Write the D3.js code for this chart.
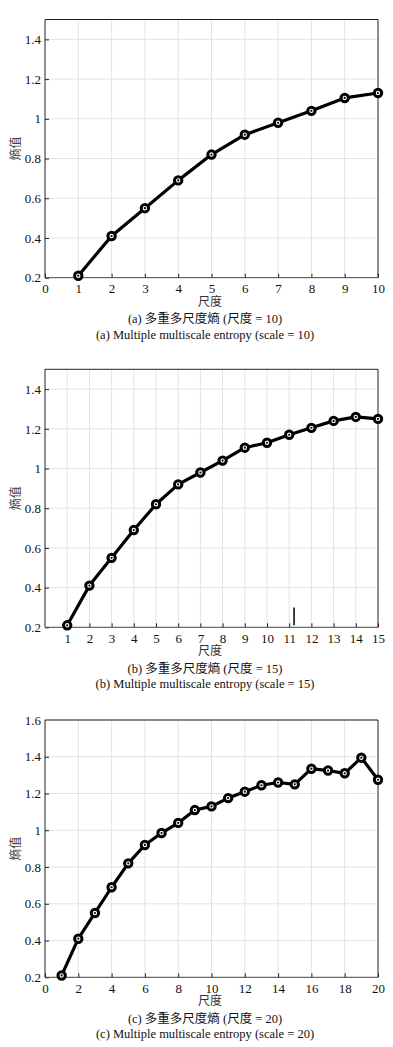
<!DOCTYPE html>
<html>
<head>
<meta charset="utf-8">
<script src="https://cdn.jsdelivr.net/npm/d3@7"></script>
<style>
  body { margin: 0; background: #fff; }
  svg text { font-family: "Liberation Serif", "Times New Roman", Times, "DejaVu Serif", "Noto Sans CJK SC", serif; fill: #111; }
</style>
</head>
<body>
<div id="chart"></div>
<script>
// scale factor (x) and entropy values
const scalesA = [1, 2, 3, 4, 5, 6, 7, 8, 9, 10];
const entropyA = [0.21, 0.41, 0.55, 0.69, 0.82, 0.92, 0.98, 1.04, 1.105, 1.13];

const scalesB = [1, 2, 3, 4, 5, 6, 7, 8, 9, 10, 11, 12, 13, 14, 15];
const entropyB = [0.21, 0.41, 0.55, 0.69, 0.82, 0.92, 0.98, 1.04, 1.105, 1.13, 1.17, 1.205, 1.24, 1.26, 1.25];

const scalesC = [1, 2, 3, 4, 5, 6, 7, 8, 9, 10, 11, 12, 13, 14, 15, 16, 17, 18, 19, 20];
const entropyC = [0.21, 0.41, 0.55, 0.69, 0.82, 0.92, 0.985, 1.04, 1.11, 1.13, 1.175, 1.21, 1.245, 1.26, 1.25, 1.335, 1.325, 1.31, 1.395, 1.275];

// tick labels
const xTicksA = [0, 1, 2, 3, 4, 5, 6, 7, 8, 9, 10];
const xTicksB = [1, 2, 3, 4, 5, 6, 7, 8, 9, 10, 11, 12, 13, 14, 15];
const xTicksC = [0, 2, 4, 6, 8, 10, 12, 14, 16, 18, 20];
const yTicksAB = [0.2, 0.4, 0.6, 0.8, 1, 1.2, 1.4];
const yTicksC = [0.2, 0.4, 0.6, 0.8, 1, 1.2, 1.4, 1.6];

// stray vertical mark visible in panel (b)
const strayB = [{x: 11.22, y0: 0.21, y1: 0.30}];

const captionsCN = ["(a) 多重多尺度熵 (尺度 = 10)", "(b) 多重多尺度熵 (尺度 = 15)", "(c) 多重多尺度熵 (尺度 = 20)"];
const captionsEN = ["(a) Multiple multiscale entropy (scale = 10)", "(b) Multiple multiscale entropy (scale = 15)", "(c) Multiple multiscale entropy (scale = 20)"];

const SERIF = '"Liberation Serif", "Times New Roman", Times, "DejaVu Serif", "Noto Sans CJK SC", serif';

const W = 393, H = 1047;
const svg = d3.select("#chart").append("svg")
  .attr("width", W).attr("height", H)
  .attr("font-family", SERIF);

const fmt = d => String(+d.toFixed(1));

function drawPanel(cfg){
  const left = 45, right = 378;
  const g = svg.append("g");

  const x = d3.scaleLinear().domain(cfg.xDomain).range([left, right]);
  const y = d3.scaleLinear().domain(cfg.yDomain).range([cfg.bottom, cfg.top]);

  // grid
  g.append("g").selectAll("line.vg")
    .data(cfg.xTicks.filter(t => t > cfg.xDomain[0] && t < cfg.xDomain[1]))
    .join("line")
    .attr("x1", d => x(d)).attr("x2", d => x(d))
    .attr("y1", cfg.top).attr("y2", cfg.bottom)
    .attr("stroke", "#e3e3e3").attr("stroke-width", 1);
  g.append("g").selectAll("line.hg")
    .data(cfg.yTicks.filter(t => t > cfg.yDomain[0] && t < cfg.yDomain[1]))
    .join("line")
    .attr("x1", left).attr("x2", right)
    .attr("y1", d => y(d)).attr("y2", d => y(d))
    .attr("stroke", "#e3e3e3").attr("stroke-width", 1);

  // axes with inward ticks
  const xa = g.append("g")
    .attr("transform", `translate(0,${cfg.bottom})`)
    .call(d3.axisBottom(x).tickValues(cfg.xTicks).tickFormat(fmt).tickSize(-4).tickPadding(6));
  const ya = g.append("g")
    .attr("transform", `translate(${left},0)`)
    .call(d3.axisLeft(y).tickValues(cfg.yTicks).tickFormat(fmt).tickSize(-4).tickPadding(4));
  [xa, ya].forEach(a => {
    a.attr("font-family", SERIF).attr("font-size", 13);
    a.select(".domain").remove();
    a.selectAll("line").attr("stroke", "#222");
    a.selectAll("text").attr("fill", "#111");
  });

  // frame
  g.append("line").attr("x1", left).attr("x2", right).attr("y1", cfg.top).attr("y2", cfg.top)
    .attr("stroke", cfg.topColor).attr("stroke-width", cfg.topWidth);
  g.append("line").attr("x1", right).attr("x2", right).attr("y1", cfg.top).attr("y2", cfg.bottom)
    .attr("stroke", "#222").attr("stroke-width", 1);
  g.append("line").attr("x1", left).attr("x2", left).attr("y1", cfg.top).attr("y2", cfg.bottom)
    .attr("stroke", "#222").attr("stroke-width", 1);
  g.append("line").attr("x1", left).attr("x2", right).attr("y1", cfg.bottom).attr("y2", cfg.bottom)
    .attr("stroke", "#444").attr("stroke-width", 1);

  // stray marks
  if (cfg.stray) {
    g.selectAll("line.stray").data(cfg.stray).join("line")
      .attr("x1", d => x(d.x)).attr("x2", d => x(d.x))
      .attr("y1", d => y(d.y0)).attr("y2", d => y(d.y1))
      .attr("stroke", "#000").attr("stroke-width", 1.5);
  }

  const data = cfg.xs.map((xi, i) => ({x: xi, y: cfg.ys[i]}));
  const line = d3.line().x(d => x(d.x)).y(d => y(d.y));
  g.append("path").datum(data)
    .attr("d", line)
    .attr("fill", "none").attr("stroke", "#000").attr("stroke-width", 3.2)
    .attr("stroke-linejoin", "round");

  g.selectAll("circle.m").data(data).join("circle")
    .attr("cx", d => x(d.x)).attr("cy", d => y(d.y))
    .attr("r", 3.7).attr("fill", "#fff").attr("stroke", "#000").attr("stroke-width", 3);
  g.selectAll("circle.c").data(data).join("circle")
    .attr("cx", d => x(d.x)).attr("cy", d => y(d.y))
    .attr("r", 1.1).attr("fill", "#000");

  // labels
  g.append("text")
    .attr("transform", `translate(16,${(cfg.top + cfg.bottom) / 2}) rotate(-90)`)
    .attr("text-anchor", "middle").attr("dominant-baseline", "central")
    .attr("font-size", 12).style("fill", "#444")
    .text("熵值");
  g.append("text")
    .attr("x", 210).attr("y", cfg.bottom + 24)
    .attr("text-anchor", "middle").attr("dominant-baseline", "central")
    .attr("font-size", 12).style("fill", "#333")
    .text("尺度");
  g.append("text")
    .attr("x", 205).attr("y", cfg.bottom + 41.5)
    .attr("text-anchor", "middle").attr("dominant-baseline", "central")
    .attr("font-size", 12.5)
    .text(cfg.capCN);
  g.append("text")
    .attr("x", 205).attr("y", cfg.bottom + 57)
    .attr("text-anchor", "middle").attr("dominant-baseline", "central")
    .attr("font-size", 12.5)
    .text(cfg.capEN);
}

drawPanel({top: 19.5, bottom: 277.7, xDomain: [0, 10], yDomain: [0.2, 1.5],
  xTicks: xTicksA, yTicks: yTicksAB, xs: scalesA, ys: entropyA,
  capCN: captionsCN[0], capEN: captionsEN[0], topColor: "#222", topWidth: 1});
drawPanel({top: 369.3, bottom: 627.3, xDomain: [0, 15], yDomain: [0.2, 1.5],
  xTicks: xTicksB, yTicks: yTicksAB, xs: scalesB, ys: entropyB, stray: strayB,
  capCN: captionsCN[1], capEN: captionsEN[1], topColor: "#222", topWidth: 1});
drawPanel({top: 720, bottom: 977.3, xDomain: [0, 20], yDomain: [0.2, 1.6],
  xTicks: xTicksC, yTicks: yTicksC, xs: scalesC, ys: entropyC,
  capCN: captionsCN[2], capEN: captionsEN[2], topColor: "#888", topWidth: 2});
</script>
</body>
</html>
